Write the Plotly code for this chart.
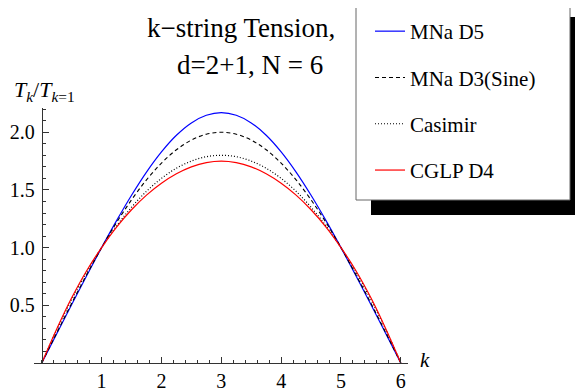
import plotly.graph_objects as go

# ---- data ----
k_values = [0, 0.25, 0.5, 0.75, 1, 1.25, 1.5, 1.75, 2, 2.25, 2.5, 2.75, 3,
            3.25, 3.5, 3.75, 4, 4.25, 4.5, 4.75, 5, 5.25, 5.5, 5.75, 6]
mna_d5 = [0, 0.254, 0.507, 0.756, 1.0, 1.234, 1.454, 1.655, 1.830, 1.974, 2.081, 2.147, 2.17,
          2.147, 2.081, 1.974, 1.830, 1.655, 1.454, 1.234, 1.0, 0.756, 0.507, 0.254, 0]
mna_d3_sine = [0, 0.261, 0.518, 0.765, 1.0, 1.218, 1.414, 1.587, 1.732, 1.848, 1.932, 1.983, 2.0,
               1.983, 1.932, 1.848, 1.732, 1.587, 1.414, 1.218, 1.0, 0.765, 0.518, 0.261, 0]
casimir = [0, 0.288, 0.55, 0.788, 1.0, 1.188, 1.35, 1.488, 1.6, 1.688, 1.75, 1.788, 1.8,
           1.788, 1.75, 1.688, 1.6, 1.488, 1.35, 1.188, 1.0, 0.788, 0.55, 0.288, 0]
cglp_d4 = [0, 0.295, 0.565, 0.80, 1.0, 1.178, 1.328, 1.455, 1.558, 1.64, 1.70, 1.737, 1.75,
           1.737, 1.70, 1.64, 1.558, 1.455, 1.328, 1.178, 1.0, 0.80, 0.565, 0.295, 0]
series_names = ["MNa D5", "MNa D3(Sine)", "Casimir", "CGLP D4"]
x_ticks = [1, 2, 3, 4, 5, 6]
y_ticks = [0.5, 1.0, 1.5, 2.0]
y_tick_labels = ["0.5", "1.0", "1.5", "2.0"]

# ---- layout geometry (screen pixels of the 583x391 window) ----
SW, SH = 583, 391
OFF = 8                                  # default page body margin
W, H = SW - OFF, SH - OFF                # figure size so it ends at the window edge
L, R, T, B = 34, 408, 108, 363           # plot-area edges in screen px
X_RANGE = [-0.13, 6.12]
Y_RANGE = [0, 2.21]

def px(xs):
    return (xs - L) / (R - L)

def py(ys):
    return (B - ys) / (B - T)

def cx(xs):
    return (xs - OFF) / W

def cy(ys):
    return 1 - (ys - OFF) / H

FONT = "Liberation Serif, Times New Roman, serif"
AX = "#333333"

styles = [
    dict(color="#0000ff", width=1.2, dash="solid"),
    dict(color="#000000", width=1.1, dash="4px,3px"),
    dict(color="#000000", width=1.2, dash="1px,2px"),
    dict(color="#ff0000", width=1.2, dash="solid"),
]
series = [mna_d5, mna_d3_sine, casimir, cglp_d4]

fig = go.Figure()
for i, (name, ys, st) in enumerate(zip(series_names, series, styles)):
    fig.add_trace(go.Scatter(
        x=k_values, y=ys, mode="lines", name=name,
        line=dict(shape="spline", smoothing=1.0, **st),
        legendgroup=f"g{i}",
    ))

fig.update_layout(
    width=W, height=H,
    margin=dict(l=L - OFF, r=SW - R, t=T - OFF, b=SH - B, pad=0, autoexpand=False),
    plot_bgcolor="white", paper_bgcolor="white",
    font=dict(family=FONT, size=20, color="black"),
    showlegend=True,
    legend=dict(
        xref="container", yref="container",
        x=cx(370), y=cy(11), xanchor="left", yanchor="top",
        bgcolor="rgba(0,0,0,0)", borderwidth=0,
        font=dict(family=FONT, size=21, color="black"),
        tracegroupgap=16, itemwidth=30,
    ),
    xaxis=dict(
        range=X_RANGE, domain=[0, 1], showgrid=False, zeroline=False,
        automargin=False,
        showline=True, linecolor=AX, linewidth=1,
        tickmode="array", tickvals=x_ticks, ticks="inside", ticklen=6,
        tickcolor=AX, tickwidth=1,
        minor=dict(dtick=0.2, tick0=0, ticks="inside", ticklen=3, tickcolor=AX, tickwidth=1),
        tickfont=dict(family=FONT, size=20, color="black"),
        fixedrange=True,
    ),
    yaxis=dict(
        range=Y_RANGE, showgrid=False, zeroline=False, automargin=False,
        anchor="free", position=(0 - X_RANGE[0]) / (X_RANGE[1] - X_RANGE[0]),
        showline=True, linecolor=AX, linewidth=1,
        tickmode="array", tickvals=y_ticks, ticktext=y_tick_labels,
        ticks="inside", ticklen=6, tickcolor=AX, tickwidth=1,
        minor=dict(dtick=0.1, tick0=0, ticks="inside", ticklen=3, tickcolor=AX, tickwidth=1),
        tickfont=dict(family=FONT, size=20, color="black"),
        ticklabelstandoff=3,
        fixedrange=True,
    ),
    shapes=[
        # legend drop shadow
        dict(type="rect", xref="paper", yref="paper",
             x0=px(371), x1=px(600), y0=py(215), y1=py(17),
             fillcolor="black", line=dict(width=0), layer="above"),
        # legend frame
        dict(type="rect", xref="paper", yref="paper",
             x0=px(356), x1=px(570), y0=py(200), y1=py(2),
             fillcolor="white", line=dict(color="#666666", width=1), layer="above"),
    ],
    annotations=[
        dict(text="k\u2212string Tension,", xref="paper", yref="paper",
             x=px(241), y=py(28), xanchor="center", yanchor="middle",
             showarrow=False, font=dict(family=FONT, size=27)),
        dict(text="d=2+1, N = 6", xref="paper", yref="paper",
             x=px(250), y=py(65), xanchor="center", yanchor="middle",
             showarrow=False, font=dict(family=FONT, size=27)),
        dict(text="<i>T</i><sub><i>k</i></sub>/<i>T</i><sub><i>k</i>=1</sub>",
             xref="paper", yref="paper", x=px(12), y=py(91),
             xanchor="left", yanchor="middle", showarrow=False,
             font=dict(family=FONT, size=22)),
        dict(text="<i>k</i>", xref="paper", yref="paper", x=px(418), y=py(360),
             xanchor="left", yanchor="middle", showarrow=False,
             font=dict(family=FONT, size=21)),
    ],
)

fig.write_html("out.html")
